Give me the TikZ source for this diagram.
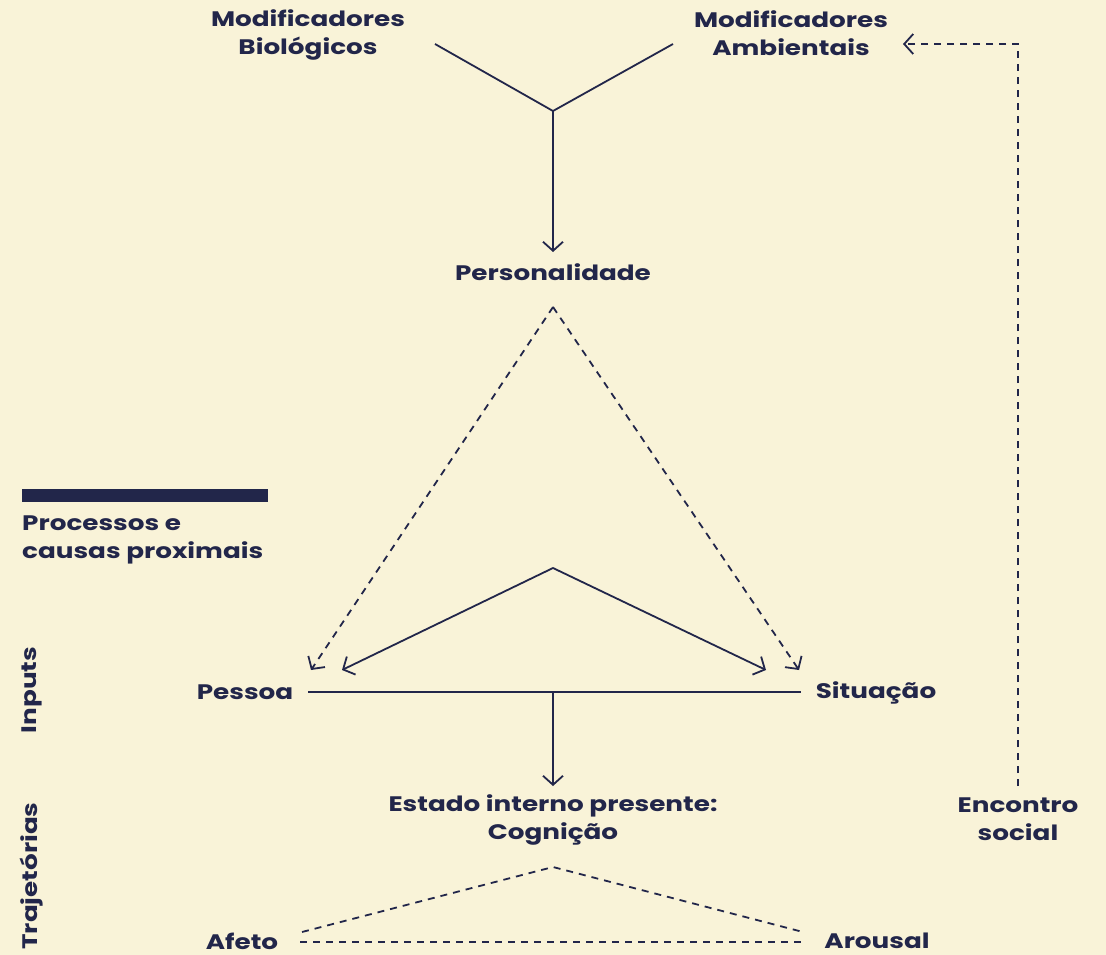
\documentclass[tikz,border=0pt]{standalone}
\usepackage{fontspec}
\setmainfont{Poppins}[FakeStretch=1.25]
\usetikzlibrary{arrows.meta}
\definecolor{bg}{HTML}{F9F3D8}
\definecolor{navy}{HTML}{22264A}
\tikzset{
  lbl/.style={text=navy, align=center, inner sep=0pt, font=\fontsize{21}{28}\selectfont\bfseries},
  conn/.style={draw=navy, line width=1.8pt},
  dsh/.style={conn, dash pattern=on 7pt off 6pt},
  tip/.style={-{Straight Barb[length=9pt,width=20pt,line width=1.8pt]}},
}
\begin{document}
\begin{tikzpicture}[x=1pt,y=-1pt]
\fill[bg] (0,0) rectangle (1106,955);
\useasboundingbox (0,0) rectangle (1106,955);

% labels
\node[lbl] (bio) at (308,35) {Modificadores\\Biológicos};
\node[lbl] (amb) at (791,33) {Modificadores\\Ambientais};
\node[lbl] (pers) at (553,272) {Personalidade};
\node[lbl] (pes) at (245,692) {Pessoa};
\node[lbl] (sit) at (876,693) {Situação};
\node[lbl] (est) at (553,820) {Estado interno presente:\\Cognição};
\node[lbl] (enc) at (1018,819) {Encontro\\social};
\node[lbl] (af) at (242,941) {Afeto};
\node[lbl] (ar) at (877,941) {Arousal};
\node[lbl, align=left, anchor=west] (proc) at (22,540) {Processos e\\causas proximais};
\node[lbl, rotate=90] (inp) at (32,690) {Inputs};
\node[lbl, rotate=90] (traj) at (32,876) {Trajetórias};

% bar
\fill[navy] (22,489) rectangle (268,502);

% coordinates
\coordinate (yl) at (435,44);
\coordinate (yr) at (673,44);
\coordinate (yj) at (553,111);
\coordinate (yend) at (553,252);
\coordinate (pa) at (553,307);
\coordinate (pl) at (311,670);
\coordinate (pr) at (799,670);
\coordinate (sa) at (553,568);
\coordinate (sl) at (342,670);
\coordinate (sr) at (766,670);
\coordinate (hl) at (308,692);
\coordinate (hr) at (801,692);
\coordinate (hm) at (553,692);
\coordinate (dn) at (553,786);
\coordinate (ta) at (553,867);
\coordinate (tl) at (302,932);
\coordinate (tr) at (803,932);
\coordinate (bl) at (300,942);
\coordinate (br) at (803,942);
\coordinate (eb) at (1018,786);
\coordinate (et) at (1018,44);
\coordinate (ea) at (903,44);

% connectors
\draw[conn] (yl) -- (yj) -- (yr);
\draw[conn, tip] (yj) -- (yend);
\draw[dsh, tip] (pa) -- (pl);
\draw[dsh, tip] (pa) -- (pr);
\draw[conn, tip] (sa) -- (sl);
\draw[conn, tip] (sa) -- (sr);
\draw[conn] (hl) -- (hr);
\draw[conn, tip] (hm) -- (dn);
\draw[dsh] (tl) -- (ta) -- (tr);
\draw[dsh] (bl) -- (br);
\draw[dsh, tip] (eb) -- (et) -- (ea);
\end{tikzpicture}
\end{document}
